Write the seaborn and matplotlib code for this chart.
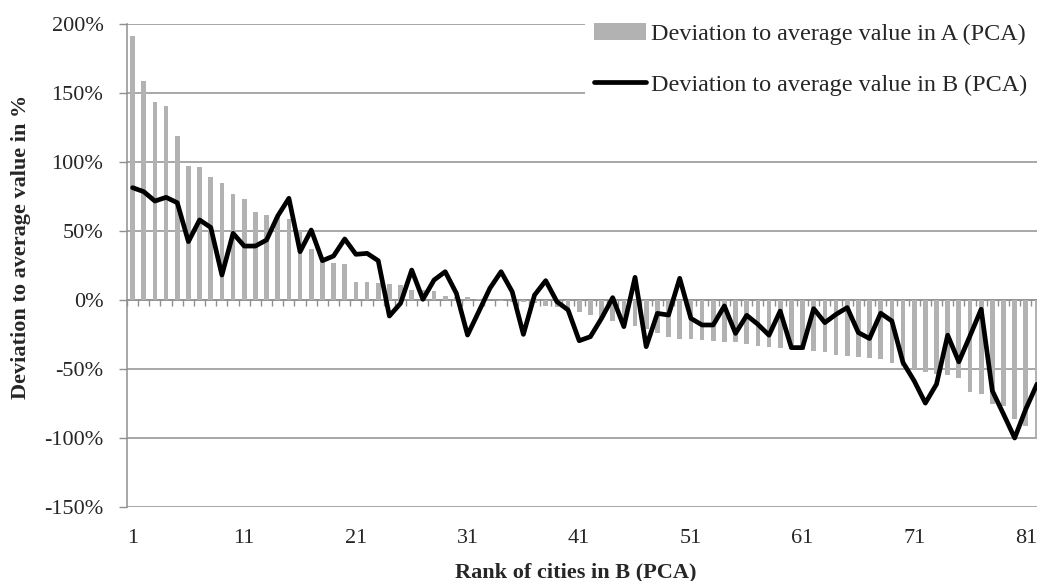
import numpy as np
import pandas as pd
import matplotlib
matplotlib.use('Agg')
import matplotlib.pyplot as plt
from matplotlib.ticker import FuncFormatter
import seaborn as sns

# rank of the cities in B (PCA)
ranks = list(range(1, 83))

# deviation to average value in A (PCA), in %
dev_a = [191, 158.7, 143.5, 140.5, 118.8, 97, 96.6, 89, 84.8, 77,
         73, 63.5, 61.8, 60, 58.7, 50, 37, 30, 26.8, 26.3,
         12.8, 12.8, 12, 11.4, 10.6, 7.2, 7.0, 6.5, 3.1, 2.5,
         1.9, 0.8, 0.3, -0.8, -1.2, -1.8, -2.5, -4, -4.8, -6,
         -8.9, -10.8, -13, -15.5, -17, -18.8, -21, -24, -27, -28,
         -28.4, -29.3, -29.8, -30.2, -30.6, -32, -33.3, -33.7, -35, -35.7,
         -36.4, -37.1, -38, -39.5, -40.7, -41, -42, -43, -45.3, -48,
         -50, -52, -53.9, -54.5, -56.8, -66.5, -68, -75.4, -77, -86.4,
         -91.4, -99]

# deviation to average value in B (PCA), in %
dev_b = [81.4, 78.5, 71.7, 74.4, 70.5, 42.3, 58, 52.6, 18.1, 48.3,
         39.1, 39.1, 43.5, 60.9, 73.7, 35, 50.7, 28.5, 31.9, 44.2,
         33.1, 33.8, 28.5, -11.6, -2.4, 21.7, 0.5, 14.5, 20.5, 4.8,
         -25.4, -8.5, 8.5, 20.5, 6, -24.9, 3.6, 14, -1.2, -7.2,
         -29.5, -26.6, -13.3, 1.7, -19.3, 16.4, -33.8, -9.7, -10.9, 15.7,
         -13.3, -18.1, -18.1, -4.3, -24.2, -11.1, -17.6, -25.5, -8, -34.5,
         -34.5, -6.3, -16.4, -10.4, -5.5, -23.6, -27.9, -9.6, -15.2, -45.3,
         -58.6, -74.7, -61, -25.5, -44.8, -26, -6.7, -65.8, -82.7, -100,
         -79, -61]

x_ticks = [1, 11, 21, 31, 41, 51, 61, 71, 81]
y_ticks = [-150, -100, -50, 0, 50, 100, 150, 200]

label_a = 'Deviation to average value in A (PCA)'
label_b = 'Deviation to average value in B (PCA)'

data = pd.DataFrame({'rank': ranks, 'a': dev_a, 'b': dev_b})

sns.set_style('white')
plt.rcParams['font.family'] = ['Liberation Serif', 'DejaVu Serif']

grid_col = '#8f8f8f'

fig = plt.figure(figsize=(10.37, 5.81), dpi=100)
ax = fig.add_axes([127 / 1037, 74 / 581, 910 / 1037, 483 / 581])

sns.barplot(data=data, x='rank', y='a', native_scale=True, width=0.42,
            color='#b2b2b2', saturation=1, errorbar=None, label=label_a,
            linewidth=0, ax=ax)
sns.lineplot(data=data, x='rank', y='b', color='black', linewidth=3.4,
             label=label_b, ax=ax, solid_joinstyle='round', solid_capstyle='round')

ax.set_xlim(0.5, 82)
ax.set_ylim(-150, 200)

# y axis
ax.set_yticks(y_ticks)
ax.yaxis.set_major_formatter(FuncFormatter(lambda v, p: f'{v:.0f}%'))
ax.yaxis.grid(True, color=grid_col, linewidth=1.1)
ax.xaxis.grid(False)
ax.set_axisbelow(True)
ax.tick_params(axis='y', direction='out', length=6, width=1, color=grid_col,
               pad=11, labelsize=16, left=True)

# x tick labels at the bottom
ax.set_xticks(x_ticks)
ax.set_xticklabels([str(t) for t in x_ticks])
ax.tick_params(axis='x', length=0, pad=16, labelsize=16)

for side in ['top', 'right', 'bottom']:
    ax.spines[side].set_visible(False)
ax.spines['left'].set_color(grid_col)
ax.spines['left'].set_linewidth(1.1)

# category axis crossing at 0 with tick marks between the cities
zero_ax = ax.secondary_xaxis(150 / 350)
zero_ax.set_xticks(np.arange(0.5, 83, 1))
zero_ax.set_xticklabels([])
zero_ax.tick_params(axis='x', direction='out', length=4.5, width=1, color=grid_col)
zero_ax.spines['bottom'].set_color(grid_col)
zero_ax.spines['bottom'].set_linewidth(1.1)

ax.set_xlabel('Rank of cities in B (PCA)', fontsize=16, fontweight='bold')
ax.set_ylabel('Deviation to average value in %', fontsize=16, fontweight='bold')
ax.xaxis.set_label_coords(0.493, -0.115)
ax.yaxis.set_label_coords(-0.106, 0.538)

handles, labels = ax.get_legend_handles_labels()
order = sorted(range(len(labels)), key=lambda i: labels[i])
leg = ax.legend([handles[i] for i in order], [labels[i] for i in order],
                loc='upper right', bbox_to_anchor=(1.0, 1.022), borderaxespad=0,
                fontsize=17.4, frameon=True, facecolor='white', edgecolor='none',
                framealpha=1, handlelength=2.15, handletextpad=0.2,
                labelspacing=1.2, borderpad=0.4)

fig.savefig('out.png', dpi=100)
